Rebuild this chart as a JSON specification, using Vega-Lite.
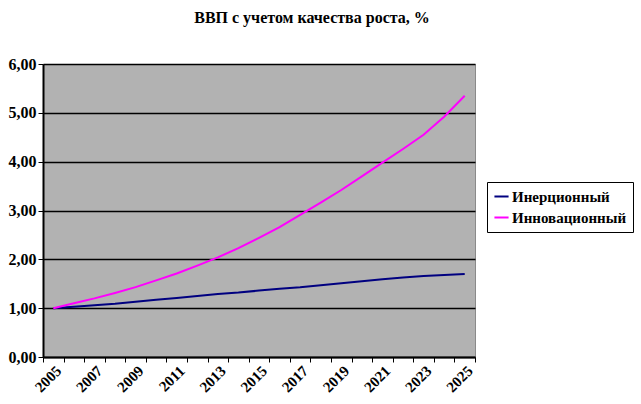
{
  "$schema": "https://vega.github.io/schema/vega-lite/v6.json",
  "width": 432,
  "height": 293,
  "autosize": "none",
  "padding": {"left": 43, "top": 64, "right": 166, "bottom": 47},
  "background": "white",
  "title": {
    "text": "ВВП с учетом качества роста, %",
    "font": "Liberation Serif",
    "fontSize": 16,
    "fontWeight": "bold",
    "color": "black",
    "anchor": "middle",
    "dx": 53,
    "offset": 30
  },
  "config": {
    "view": {"fill": "#b2b2b2", "stroke": "#8a8a8a", "strokeWidth": 1}
  },
  "data": {
    "values": [
      {"year": 2005, "series": "Инерционный", "value": 1.00},
      {"year": 2006, "series": "Инерционный", "value": 1.03},
      {"year": 2007, "series": "Инерционный", "value": 1.06},
      {"year": 2008, "series": "Инерционный", "value": 1.09},
      {"year": 2009, "series": "Инерционный", "value": 1.13},
      {"year": 2010, "series": "Инерционный", "value": 1.17},
      {"year": 2011, "series": "Инерционный", "value": 1.21},
      {"year": 2012, "series": "Инерционный", "value": 1.25},
      {"year": 2013, "series": "Инерционный", "value": 1.29},
      {"year": 2014, "series": "Инерционный", "value": 1.32},
      {"year": 2015, "series": "Инерционный", "value": 1.36},
      {"year": 2016, "series": "Инерционный", "value": 1.40},
      {"year": 2017, "series": "Инерционный", "value": 1.43},
      {"year": 2018, "series": "Инерционный", "value": 1.47},
      {"year": 2019, "series": "Инерционный", "value": 1.51},
      {"year": 2020, "series": "Инерционный", "value": 1.55},
      {"year": 2021, "series": "Инерционный", "value": 1.59},
      {"year": 2022, "series": "Инерционный", "value": 1.63},
      {"year": 2023, "series": "Инерционный", "value": 1.66},
      {"year": 2024, "series": "Инерционный", "value": 1.68},
      {"year": 2025, "series": "Инерционный", "value": 1.70},
      {"year": 2005, "series": "Инновационный", "value": 1.00},
      {"year": 2006, "series": "Инновационный", "value": 1.10},
      {"year": 2007, "series": "Инновационный", "value": 1.20},
      {"year": 2008, "series": "Инновационный", "value": 1.31},
      {"year": 2009, "series": "Инновационный", "value": 1.43},
      {"year": 2010, "series": "Инновационный", "value": 1.57},
      {"year": 2011, "series": "Инновационный", "value": 1.71},
      {"year": 2012, "series": "Инновационный", "value": 1.87},
      {"year": 2013, "series": "Инновационный", "value": 2.04},
      {"year": 2014, "series": "Инновационный", "value": 2.23},
      {"year": 2015, "series": "Инновационный", "value": 2.44},
      {"year": 2016, "series": "Инновационный", "value": 2.66},
      {"year": 2017, "series": "Инновационный", "value": 2.91},
      {"year": 2018, "series": "Инновационный", "value": 3.16},
      {"year": 2019, "series": "Инновационный", "value": 3.42},
      {"year": 2020, "series": "Инновационный", "value": 3.70},
      {"year": 2021, "series": "Инновационный", "value": 3.98},
      {"year": 2022, "series": "Инновационный", "value": 4.26},
      {"year": 2023, "series": "Инновационный", "value": 4.55},
      {"year": 2024, "series": "Инновационный", "value": 4.92},
      {"year": 2025, "series": "Инновационный", "value": 5.35}
    ]
  },
  "mark": {"type": "line", "strokeWidth": 2},
  "encoding": {
    "x": {
      "field": "year",
      "type": "ordinal",
      "scale": {"type": "band", "paddingInner": 0, "paddingOuter": 0},
      "axis": {
        "title": null,
        "labelAngle": -45,
        "labelAlign": "right",
        "labelBaseline": "top",
        "labelFont": "Liberation Serif",
        "labelFontSize": 15,
        "labelFontWeight": "bold",
        "labelColor": "black",
        "labelPadding": 1,
        "labelExpr": "datum.value % 2 == 1 ? datum.label : ''",
        "tickBand": "extent",
        "tickColor": "black",
        "tickSize": 5,
        "domainColor": "black",
        "domainWidth": 2,
        "grid": false
      }
    },
    "y": {
      "field": "value",
      "type": "quantitative",
      "scale": {"domain": [0, 6], "nice": false},
      "axis": {
        "title": null,
        "values": [0, 1, 2, 3, 4, 5, 6],
        "labelExpr": "replace(format(datum.value, '.2f'), '.', ',')",
        "labelFont": "Liberation Serif",
        "labelFontSize": 16,
        "labelFontWeight": "bold",
        "labelColor": "black",
        "labelPadding": 2,
        "tickColor": "black",
        "tickSize": 5,
        "domainColor": "black",
        "domainWidth": 2,
        "grid": true,
        "gridColor": "black",
        "gridWidth": 1.3
      }
    },
    "color": {
      "field": "series",
      "type": "nominal",
      "scale": {"domain": ["Инерционный", "Инновационный"], "range": ["#000080", "#ff00ff"]},
      "legend": {
        "title": null,
        "orient": "none",
        "legendX": 444,
        "legendY": 118,
        "symbolType": "stroke",
        "symbolSize": 200,
        "symbolStrokeWidth": 2,
        "labelFont": "Liberation Serif",
        "labelFontSize": 15,
        "labelFontWeight": "bold",
        "labelColor": "black",
        "fillColor": "white",
        "strokeColor": "black",
        "padding": 6,
        "rowPadding": 4,
        "labelOffset": 2
      }
    }
  }
}
